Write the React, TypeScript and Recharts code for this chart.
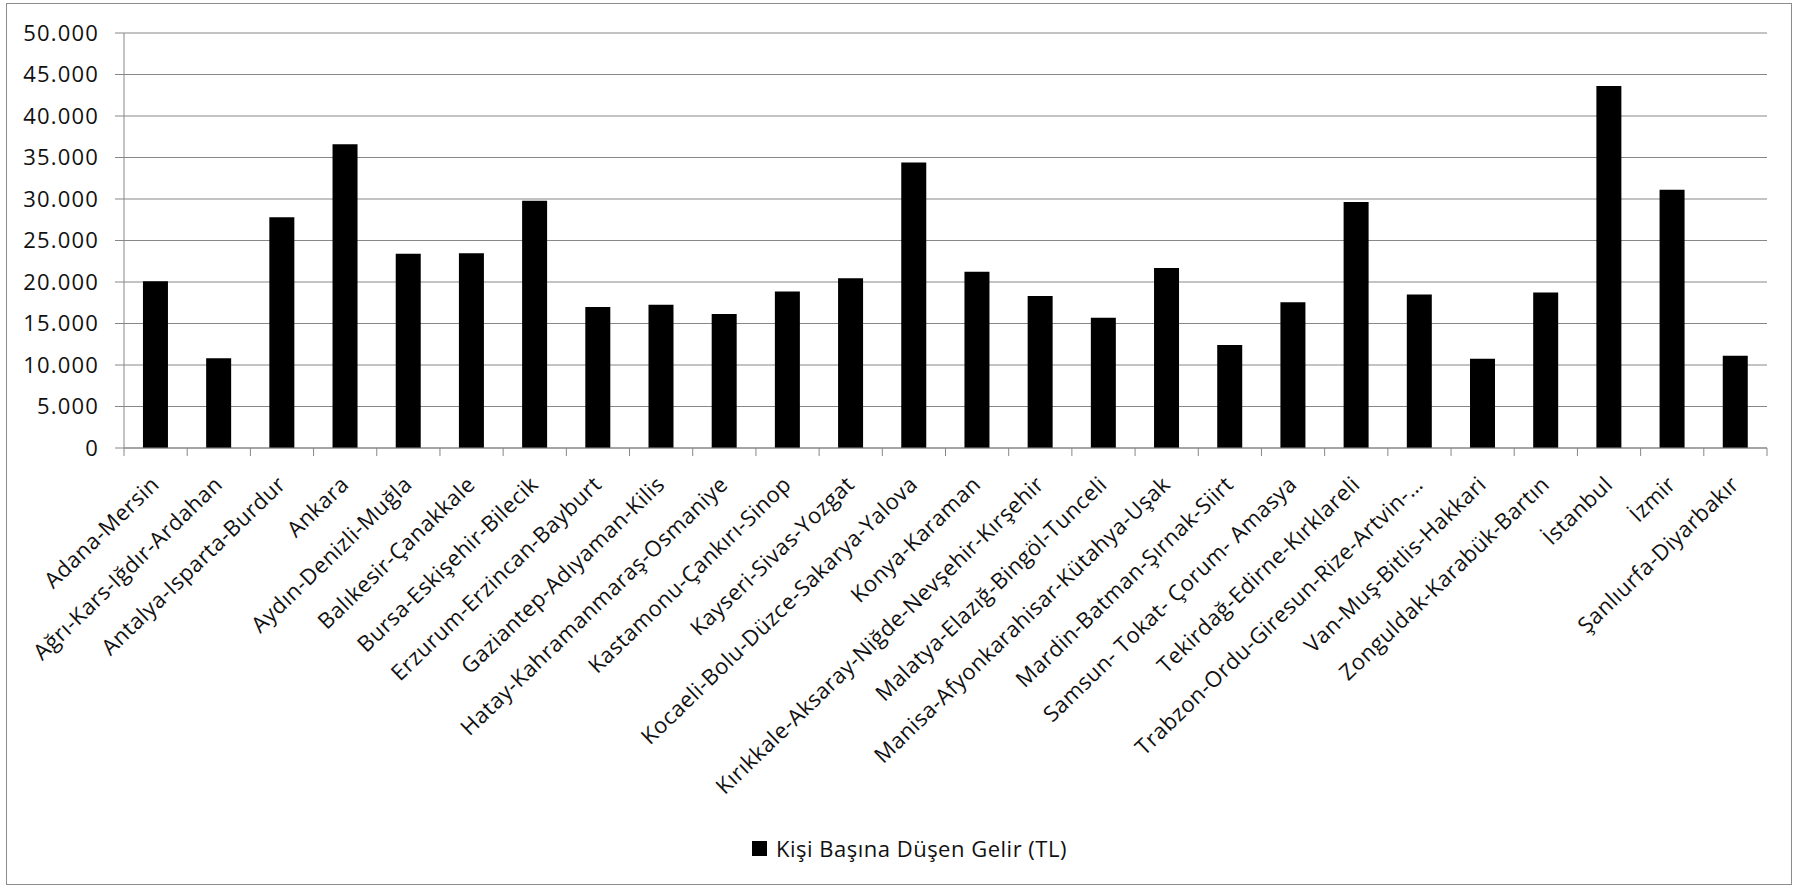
import React from "react";
import { BarChart, Bar, XAxis, YAxis, CartesianGrid, Legend } from "recharts";

// İstatistiki bölge birimleri (Düzey 2)
const regions = [
  "Adana-Mersin",
  "Ağrı-Kars-Iğdır-Ardahan",
  "Antalya-Isparta-Burdur",
  "Ankara",
  "Aydın-Denizli-Muğla",
  "Balıkesir-Çanakkale",
  "Bursa-Eskişehir-Bilecik",
  "Erzurum-Erzincan-Bayburt",
  "Gaziantep-Adıyaman-Kilis",
  "Hatay-Kahramanmaraş-Osmaniye",
  "Kastamonu-Çankırı-Sinop",
  "Kayseri-Sivas-Yozgat",
  "Kocaeli-Bolu-Düzce-Sakarya-Yalova",
  "Konya-Karaman",
  "Kırıkkale-Aksaray-Niğde-Nevşehir-Kırşehir",
  "Malatya-Elazığ-Bingöl-Tunceli",
  "Manisa-Afyonkarahisar-Kütahya-Uşak",
  "Mardin-Batman-Şırnak-Siirt",
  "Samsun- Tokat- Çorum- Amasya",
  "Tekirdağ-Edirne-Kırklareli",
  "Trabzon-Ordu-Giresun-Rize-Artvin-…",
  "Van-Muş-Bitlis-Hakkari",
  "Zonguldak-Karabük-Bartın",
  "İstanbul",
  "İzmir",
  "Şanlıurfa-Diyarbakır",
];

// Kişi başına düşen gelir (TL)
const income = [
  20100, 10800, 27800, 36600, 23400, 23450, 29800, 17000, 17250, 16150,
  18850, 20450, 34400, 21250, 18300, 15700, 21700, 12400, 17550, 29650,
  18500, 10750, 18750, 43600, 31100, 11100,
];

const yTicks = [0, 5000, 10000, 15000, 20000, 25000, 30000, 35000, 40000, 45000, 50000];

const seriesName = "Kişi Başına Düşen Gelir (TL)";

const data = regions.map((name, i) => ({ name, income: income[i] }));

const W = 1793;
const H = 888;
const MARGIN = { top: 33, right: 26, bottom: 0, left: 24 };
const Y_AXIS_W = 100;
const X_AXIS_H = 440;
const STEP = (W - MARGIN.left - Y_AXIS_W - MARGIN.right) / regions.length;

const GRID = "#878787";
const TEXT = "#111";
const FONT = "'Open Sans', 'Noto Sans', sans-serif";
const FS = 22;
const LS = 0.5; // excel's text is a bit wider than open sans

const fmt = (v: number) => String(v).replace(/\B(?=(\d{3})+(?!\d))/g, ".");

// excel puts the tick marks between categories, so draw them here
function RegionTick(props: any) {
  const { x, y, payload, index } = props;
  const tx = x + 5;
  const ty = y + 30;
  return (
    <g>
      <line x1={x - STEP / 2} x2={x - STEP / 2} y1={y - 8} y2={y} stroke={GRID} strokeWidth={1} />
      {index === regions.length - 1 && (
        <line x1={x + STEP / 2} x2={x + STEP / 2} y1={y - 8} y2={y} stroke={GRID} strokeWidth={1} />
      )}
      <text
        x={tx}
        y={ty}
        transform={`rotate(-44, ${tx}, ${ty})`}
        textAnchor="end"
        fill={TEXT}
        fontSize={FS}
        fontFamily={FONT}
        letterSpacing={LS}
      >
        {payload.value}
      </text>
    </g>
  );
}

function LegendBox() {
  return (
    <div
      style={{
        display: "flex",
        alignItems: "center",
        fontFamily: FONT,
        fontSize: FS,
        letterSpacing: LS,
        color: TEXT,
        whiteSpace: "nowrap",
      }}
    >
      <span style={{ display: "inline-block", width: 15, height: 15, background: "#000", marginRight: 9 }} />
      <span>{seriesName}</span>
    </div>
  );
}

export default function App() {
  return (
    <div style={{ position: "absolute", left: 0, top: 0, width: W, height: H, background: "#fff" }}>
      <BarChart width={W} height={H} data={data} margin={MARGIN} barCategoryGap="30%">
        <CartesianGrid vertical={false} stroke={GRID} strokeWidth={1} />
        <XAxis
          dataKey="name"
          interval={0}
          height={X_AXIS_H}
          axisLine={{ stroke: GRID, strokeWidth: 1 }}
          tickLine={false}
          tickSize={8}
          tickMargin={0}
          tick={<RegionTick />}
        />
        <YAxis
          width={Y_AXIS_W}
          domain={[0, 50000]}
          ticks={yTicks}
          tickFormatter={fmt}
          axisLine={{ stroke: GRID, strokeWidth: 1 }}
          tickLine={{ stroke: GRID }}
          tickSize={9}
          tickMargin={16}
          tick={{ fontSize: FS, fill: TEXT, fontFamily: FONT, letterSpacing: 1.2 }}
        />
        <Legend
          layout="horizontal"
          verticalAlign="middle"
          align="center"
          wrapperStyle={{ top: 833, left: 752, width: 420 }}
          content={() => <LegendBox />}
        />
        <Bar dataKey="income" name={seriesName} fill="#000" isAnimationActive={false} />
      </BarChart>
      <div
        style={{
          position: "absolute",
          left: 6,
          top: 3,
          width: 1786,
          height: 882,
          border: "1.5px solid #8c8c8c",
          boxSizing: "border-box",
          pointerEvents: "none",
        }}
      />
    </div>
  );
}
